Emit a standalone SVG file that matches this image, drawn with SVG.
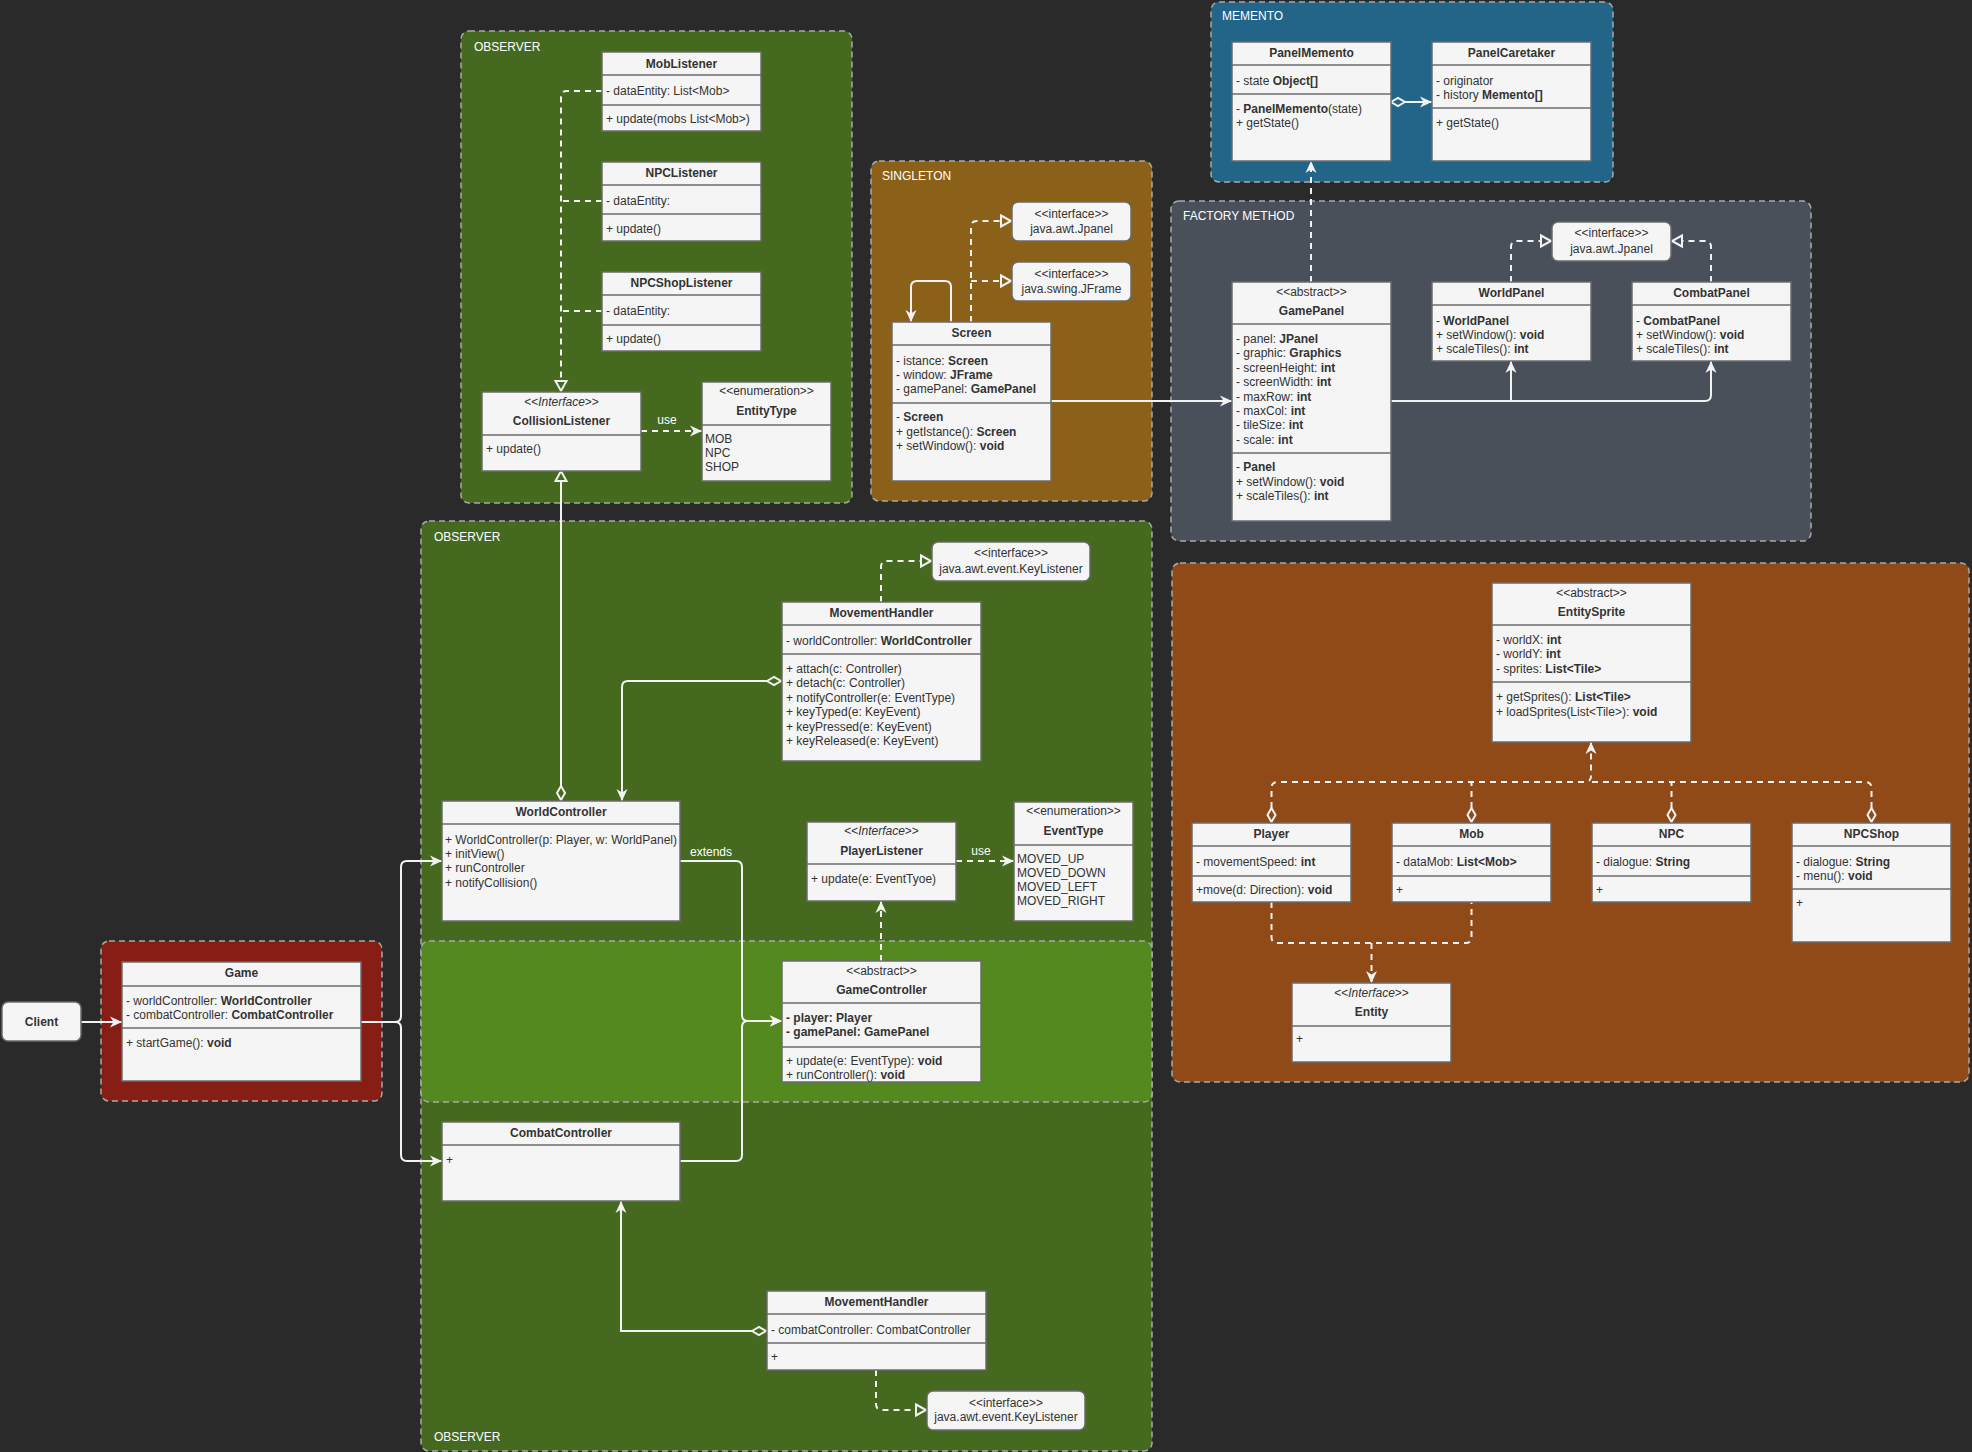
<svg xmlns="http://www.w3.org/2000/svg" width="1972" height="1452" viewBox="0 0 1972 1452">
<defs>
<style>
.grp{stroke:#a9a9a9;stroke-width:1.5;stroke-dasharray:6 4}
.box{fill:#f5f5f5;stroke:#6b6b6b;stroke-width:1.5}
.sep{stroke:#6b6b6b;stroke-width:1.5}
text{font-family:"Liberation Sans",Arial,Helvetica,sans-serif;font-size:12px;fill:#333333}
.b{font-weight:bold}
.m{text-anchor:middle}
.i{font-style:italic}
.f12{font-size:12px}
.lbl{font-size:12px;fill:#ffffff}
.ln{fill:none;stroke:#f2f2f2;stroke-width:2}
.d{stroke-dasharray:6 5}
</style>
<!-- filled notched arrow -->
<marker id="arr" markerUnits="userSpaceOnUse" markerWidth="14" markerHeight="14" refX="12" refY="6" orient="auto" overflow="visible">
<path d="M0,0.5 L12,6 L0,11.5 L3.5,6 Z" fill="#f2f2f2"/>
</marker>
<!-- hollow triangle (realization / generalization), path ends at its base -->
<marker id="tri" markerUnits="userSpaceOnUse" markerWidth="14" markerHeight="14" refX="1" refY="7" orient="auto" overflow="visible">
<path d="M1,1.5 L11,7 L1,12.5 Z" fill="none" stroke="#f2f2f2" stroke-width="2"/>
</marker>
<!-- hollow diamond (aggregation) at path start -->
<marker id="dia" markerUnits="userSpaceOnUse" markerWidth="18" markerHeight="12" refX="1" refY="6" orient="auto-start-reverse" overflow="visible">
<path d="M1,6 L8,2 L15,6 L8,10 Z" fill="none" stroke="#f2f2f2" stroke-width="2"/>
</marker>
</defs>

<rect x="0" y="0" width="1972" height="1452" fill="#2a2a2a"/>

<!-- pattern groups -->
<g id="groups">
<rect x="461" y="31" width="391" height="472" rx="8" fill="#45691f" class="grp"/>
<text x="474" y="51" class="lbl">OBSERVER</text>
<rect x="871" y="161" width="281" height="340" rx="8" fill="#8b6119" class="grp"/>
<text x="882" y="180" class="lbl">SINGLETON</text>
<rect x="1211" y="2" width="402" height="180" rx="8" fill="#226589" class="grp"/>
<text x="1222" y="20" class="lbl">MEMENTO</text>
<rect x="1171" y="201" width="640" height="340" rx="8" fill="#4a505a" class="grp"/>
<text x="1183" y="220" class="lbl">FACTORY METHOD</text>
<rect x="1172" y="563" width="797" height="519" rx="8" fill="#8f4a17" class="grp"/>
<rect x="421" y="521" width="731" height="930" rx="8" fill="#45691f" class="grp"/>
<text x="434" y="541" class="lbl">OBSERVER</text>
<text x="434" y="1441" class="lbl">OBSERVER</text>
<rect x="421" y="941" width="731" height="161" rx="8" fill="#53891e" class="grp"/>
<rect x="101" y="941" width="281" height="160" rx="8" fill="#861e16" class="grp"/>
</g>

<!-- connectors -->
<g id="connectors">
<!-- listeners realize CollisionListener -->
<path class="ln d" d="M602,91 H567 Q561,91 561,97 V381" marker-end="url(#tri)"/>
<path class="ln d" d="M602,201 H561"/>
<path class="ln d" d="M602,311 H561"/>
<path class="ln d" d="M641,431 H702" marker-end="url(#arr)"/>
<text x="667" y="424" class="lbl m">use</text>
<path class="ln" d="M561,786 V481" marker-start="url(#dia)" marker-end="url(#tri)"/>
<!-- singleton -->
<path class="ln" d="M951,322 V287 Q951,281 945,281 H917 Q911,281 911,287 V322" marker-end="url(#arr)"/>
<path class="ln d" d="M971,322 V227 Q971,221 977,221 H1001" marker-end="url(#tri)"/>
<path class="ln d" d="M971,281 H1001" marker-end="url(#tri)"/>
<path class="ln" d="M1051,401 H1232" marker-end="url(#arr)"/>
<!-- memento -->
<path class="ln" d="M1405,102 H1432" marker-start="url(#dia)" marker-end="url(#arr)"/>
<path class="ln d" d="M1311,282 V161" marker-end="url(#arr)"/>
<!-- factory -->
<path class="ln" d="M1391,401 H1705 Q1711,401 1711,395 V361" marker-end="url(#arr)"/>
<path class="ln" d="M1511,401 V361" marker-end="url(#arr)"/>
<path class="ln d" d="M1511,282 V247 Q1511,241 1517,241 H1541" marker-end="url(#tri)"/>
<path class="ln d" d="M1711,282 V247 Q1711,241 1705,241 H1682" marker-end="url(#tri)"/>
<!-- entities -->
<path class="ln d" d="M1271.5,808 V788 Q1271.5,782 1277.5,782 H1585 Q1591,782 1591,776 V742" marker-start="url(#dia)" marker-end="url(#arr)"/>
<path class="ln d" d="M1471.5,808 V782" marker-start="url(#dia)"/>
<path class="ln d" d="M1671.5,808 V782" marker-start="url(#dia)"/>
<path class="ln d" d="M1871.5,808 V788 Q1871.5,782 1865.5,782 H1591" marker-start="url(#dia)"/>
<path class="ln d" d="M1271.5,902 V937 Q1271.5,943 1277.5,943 H1465.5 Q1471.5,943 1471.5,937 V902"/>
<path class="ln d" d="M1371.5,943 V983" marker-end="url(#arr)"/>
<!-- world side -->
<path class="ln d" d="M881,602 V567 Q881,561 887,561 H921" marker-end="url(#tri)"/>
<path class="ln" d="M767,681 H628 Q622,681 622,687 V801" marker-start="url(#dia)" marker-end="url(#arr)"/>
<path class="ln" d="M680,861 H736 Q742,861 742,867 V1015 Q742,1021 748,1021 H782" marker-end="url(#arr)"/>
<text x="711" y="856" class="lbl m">extends</text>
<path class="ln" d="M680,1161 H736 Q742,1161 742,1155 V1027 Q742,1021 748,1021 H782" marker-end="url(#arr)"/>
<path class="ln d" d="M956,861 H1014" marker-end="url(#arr)"/>
<text x="981" y="855" class="lbl m">use</text>
<path class="ln d" d="M881,961 V901" marker-end="url(#arr)"/>
<!-- combat side -->
<path class="ln" d="M752,1331 H621 V1201" marker-start="url(#dia)" marker-end="url(#arr)"/>
<path class="ln d" d="M876,1370 V1404 Q876,1410 882,1410 H916" marker-end="url(#tri)"/>
<!-- entry -->
<path class="ln" d="M81,1022 H122" marker-end="url(#arr)"/>
<path class="ln" d="M361,1022 H395 Q401,1022 401,1016 V867 Q401,861 407,861 H442" marker-end="url(#arr)"/>
<path class="ln" d="M361,1022 H395 Q401,1022 401,1028 V1155 Q401,1161 407,1161 H442" marker-end="url(#arr)"/>
</g>

<!-- OBSERVER (collision) -->
<g id="MobListener">
<rect x="602" y="52" width="159" height="79" class="box"/>
<line x1="602" y1="75" x2="761" y2="75" class="sep"/><line x1="602" y1="105" x2="761" y2="105" class="sep"/>
<text x="681.5" y="68" class="m b">MobListener</text>
<text x="606" y="95">- dataEntity: List&lt;Mob&gt;</text>
<text x="606" y="123">+ update(mobs List&lt;Mob&gt;)</text>
</g>
<g id="NPCListener">
<rect x="602" y="162" width="159" height="79" class="box"/>
<line x1="602" y1="185" x2="761" y2="185" class="sep"/><line x1="602" y1="214" x2="761" y2="214" class="sep"/>
<text x="681.5" y="177" class="m b">NPCListener</text>
<text x="606" y="205">- dataEntity:</text>
<text x="606" y="233">+ update()</text>
</g>
<g id="NPCShopListener">
<rect x="602" y="272" width="159" height="79" class="box"/>
<line x1="602" y1="295" x2="761" y2="295" class="sep"/><line x1="602" y1="325" x2="761" y2="325" class="sep"/>
<text x="681.5" y="287" class="m b">NPCShopListener</text>
<text x="606" y="315">- dataEntity:</text>
<text x="606" y="343">+ update()</text>
</g>
<g id="CollisionListener">
<rect x="482" y="392" width="159" height="79" class="box"/>
<line x1="482" y1="435" x2="641" y2="435" class="sep"/>
<text x="561.5" y="406" class="m">&lt;&lt;<tspan class="i">Interface</tspan>&gt;&gt;</text>
<text x="561.5" y="425" class="m b">CollisionListener</text>
<text x="486" y="453">+ update()</text>
</g>
<g id="EntityType">
<rect x="702" y="382" width="129" height="99" class="box"/>
<line x1="702" y1="425" x2="831" y2="425" class="sep"/>
<text x="766.5" y="395" class="m">&lt;&lt;enumeration&gt;&gt;</text>
<text x="766.5" y="415" class="m b">EntityType</text>
<text x="705" y="443">MOB</text>
<text x="705" y="457">NPC</text>
<text x="705" y="471">SHOP</text>
</g>

<!-- SINGLETON -->
<g id="JPanelA">
<rect x="1012" y="202" width="119" height="39" rx="6" class="box"/>
<text x="1071.5" y="218" class="m">&lt;&lt;interface&gt;&gt;</text>
<text x="1071.5" y="233" class="m">java.awt.Jpanel</text>
</g>
<g id="JFrame">
<rect x="1012" y="262" width="119" height="39" rx="6" class="box"/>
<text x="1071.5" y="278" class="m">&lt;&lt;interface&gt;&gt;</text>
<text x="1071.5" y="293" class="m">java.swing.JFrame</text>
</g>
<g id="Screen">
<rect x="892" y="322" width="159" height="159" class="box"/>
<line x1="892" y1="345" x2="1051" y2="345" class="sep"/><line x1="892" y1="403" x2="1051" y2="403" class="sep"/>
<text x="971.5" y="337" class="m b">Screen</text>
<text x="896" y="365">- istance: <tspan class="b">Screen</tspan></text>
<text x="896" y="379">- window: <tspan class="b">JFrame</tspan></text>
<text x="896" y="393">- gamePanel: <tspan class="b">GamePanel</tspan></text>
<text x="896" y="421">- <tspan class="b">Screen</tspan></text>
<text x="896" y="436">+ getIstance(): <tspan class="b">Screen</tspan></text>
<text x="896" y="450">+ setWindow(): <tspan class="b">void</tspan></text>
</g>

<!-- MEMENTO -->
<g id="PanelMemento">
<rect x="1232" y="42" width="159" height="119" class="box"/>
<line x1="1232" y1="65" x2="1391" y2="65" class="sep"/><line x1="1232" y1="94" x2="1391" y2="94" class="sep"/>
<text x="1311.5" y="57" class="m b">PanelMemento</text>
<text x="1236" y="85">- state <tspan class="b">Object[]</tspan></text>
<text x="1236" y="113">- <tspan class="b">PanelMemento</tspan>(state)</text>
<text x="1236" y="127">+ getState()</text>
</g>
<g id="PanelCaretaker">
<rect x="1432" y="42" width="159" height="119" class="box"/>
<line x1="1432" y1="65" x2="1591" y2="65" class="sep"/><line x1="1432" y1="108" x2="1591" y2="108" class="sep"/>
<text x="1511.5" y="57" class="m b">PanelCaretaker</text>
<text x="1436" y="85">- originator</text>
<text x="1436" y="99">- history <tspan class="b">Memento[]</tspan></text>
<text x="1436" y="127">+ getState()</text>
</g>

<!-- FACTORY METHOD -->
<g id="GamePanel">
<rect x="1232" y="282" width="159" height="239" class="box"/>
<line x1="1232" y1="324" x2="1391" y2="324" class="sep"/><line x1="1232" y1="453" x2="1391" y2="453" class="sep"/>
<text x="1311.5" y="296" class="m">&lt;&lt;abstract&gt;&gt;</text>
<text x="1311.5" y="315" class="m b">GamePanel</text>
<text x="1236" y="343">- panel: <tspan class="b">JPanel</tspan></text>
<text x="1236" y="357">- graphic: <tspan class="b">Graphics</tspan></text>
<text x="1236" y="372">- screenHeight: <tspan class="b">int</tspan></text>
<text x="1236" y="386">- screenWidth: <tspan class="b">int</tspan></text>
<text x="1236" y="401">- maxRow: <tspan class="b">int</tspan></text>
<text x="1236" y="415">- maxCol: <tspan class="b">int</tspan></text>
<text x="1236" y="429">- tileSize: <tspan class="b">int</tspan></text>
<text x="1236" y="444">- scale: <tspan class="b">int</tspan></text>
<text x="1236" y="471">- <tspan class="b">Panel</tspan></text>
<text x="1236" y="486">+ setWindow(): <tspan class="b">void</tspan></text>
<text x="1236" y="500">+ scaleTiles(): <tspan class="b">int</tspan></text>
</g>
<g id="WorldPanel">
<rect x="1432" y="282" width="159" height="79" class="box"/>
<line x1="1432" y1="305" x2="1591" y2="305" class="sep"/>
<text x="1511.5" y="297" class="m b">WorldPanel</text>
<text x="1436" y="325">- <tspan class="b">WorldPanel</tspan></text>
<text x="1436" y="339">+ setWindow(): <tspan class="b">void</tspan></text>
<text x="1436" y="353">+ scaleTiles(): <tspan class="b">int</tspan></text>
</g>
<g id="CombatPanel">
<rect x="1632" y="282" width="159" height="79" class="box"/>
<line x1="1632" y1="305" x2="1791" y2="305" class="sep"/>
<text x="1711.5" y="297" class="m b">CombatPanel</text>
<text x="1636" y="325">- <tspan class="b">CombatPanel</tspan></text>
<text x="1636" y="339">+ setWindow(): <tspan class="b">void</tspan></text>
<text x="1636" y="353">+ scaleTiles(): <tspan class="b">int</tspan></text>
</g>
<g id="JPanelB">
<rect x="1552" y="222" width="119" height="39" rx="6" class="box"/>
<text x="1611.5" y="237" class="m">&lt;&lt;interface&gt;&gt;</text>
<text x="1611.5" y="253" class="m">java.awt.Jpanel</text>
</g>

<!-- ENTITIES -->
<g id="EntitySprite">
<rect x="1492" y="583" width="199" height="159" class="box"/>
<line x1="1492" y1="625" x2="1691" y2="625" class="sep"/><line x1="1492" y1="682" x2="1691" y2="682" class="sep"/>
<text x="1591.5" y="597" class="m">&lt;&lt;abstract&gt;&gt;</text>
<text x="1591.5" y="616" class="m b">EntitySprite</text>
<text x="1496" y="644">- worldX: <tspan class="b">int</tspan></text>
<text x="1496" y="658">- worldY: <tspan class="b">int</tspan></text>
<text x="1496" y="673">- sprites: <tspan class="b">List&lt;Tile&gt;</tspan></text>
<text x="1496" y="701">+ getSprites(): <tspan class="b">List&lt;Tile&gt;</tspan></text>
<text x="1496" y="716">+ loadSprites(List&lt;Tile&gt;): <tspan class="b">void</tspan></text>
</g>
<g id="Player">
<rect x="1192" y="823" width="159" height="79" class="box"/>
<line x1="1192" y1="846" x2="1351" y2="846" class="sep"/><line x1="1192" y1="876" x2="1351" y2="876" class="sep"/>
<text x="1271.5" y="838" class="m b">Player</text>
<text x="1196" y="866">- movementSpeed: <tspan class="b">int</tspan></text>
<text x="1196" y="894">+move(d: Direction): <tspan class="b">void</tspan></text>
</g>
<g id="Mob">
<rect x="1392" y="823" width="159" height="79" class="box"/>
<line x1="1392" y1="846" x2="1551" y2="846" class="sep"/><line x1="1392" y1="876" x2="1551" y2="876" class="sep"/>
<text x="1471.5" y="838" class="m b">Mob</text>
<text x="1396" y="866">- dataMob: <tspan class="b">List&lt;Mob&gt;</tspan></text>
<text x="1396" y="894">+</text>
</g>
<g id="NPC">
<rect x="1592" y="823" width="159" height="79" class="box"/>
<line x1="1592" y1="846" x2="1751" y2="846" class="sep"/><line x1="1592" y1="876" x2="1751" y2="876" class="sep"/>
<text x="1671.5" y="838" class="m b">NPC</text>
<text x="1596" y="866">- dialogue: <tspan class="b">String</tspan></text>
<text x="1596" y="894">+</text>
</g>
<g id="NPCShop">
<rect x="1792" y="823" width="159" height="119" class="box"/>
<line x1="1792" y1="846" x2="1951" y2="846" class="sep"/><line x1="1792" y1="889" x2="1951" y2="889" class="sep"/>
<text x="1871.5" y="838" class="m b">NPCShop</text>
<text x="1796" y="866">- dialogue: <tspan class="b">String</tspan></text>
<text x="1796" y="880">- menu(): <tspan class="b">void</tspan></text>
<text x="1796" y="907">+</text>
</g>
<g id="Entity">
<rect x="1292" y="983" width="159" height="79" class="box"/>
<line x1="1292" y1="1026" x2="1451" y2="1026" class="sep"/>
<text x="1371.5" y="997" class="m">&lt;&lt;<tspan class="i">Interface</tspan>&gt;&gt;</text>
<text x="1371.5" y="1016" class="m b">Entity</text>
<text x="1296" y="1043">+</text>
</g>

<!-- OBSERVER (input) -->
<g id="KeyListenerA">
<rect x="932" y="542" width="158" height="39" rx="6" class="box"/>
<text x="1011" y="557" class="m">&lt;&lt;interface&gt;&gt;</text>
<text x="1011" y="573" class="m">java.awt.event.KeyListener</text>
</g>
<g id="MovementHandlerWorld">
<rect x="782" y="602" width="199" height="159" class="box"/>
<line x1="782" y1="625" x2="981" y2="625" class="sep"/><line x1="782" y1="654" x2="981" y2="654" class="sep"/>
<text x="881.5" y="617" class="m b">MovementHandler</text>
<text x="786" y="645">- worldController: <tspan class="b">WorldController</tspan></text>
<text x="786" y="673">+ attach(c: Controller)</text>
<text x="786" y="687">+ detach(c: Controller)</text>
<text x="786" y="702">+ notifyController(e: EventType)</text>
<text x="786" y="716">+ keyTyped(e: KeyEvent)</text>
<text x="786" y="731">+ keyPressed(e: KeyEvent)</text>
<text x="786" y="745">+ keyReleased(e: KeyEvent)</text>
</g>
<g id="WorldController">
<rect x="442" y="801" width="238" height="120" class="box"/>
<line x1="442" y1="824" x2="680" y2="824" class="sep"/>
<text x="561" y="816" class="m b">WorldController</text>
<text x="445" y="844">+ WorldController(p: Player, w: WorldPanel)</text>
<text x="445" y="858">+ initView()</text>
<text x="445" y="872">+ runController</text>
<text x="445" y="887">+ notifyCollision()</text>
</g>
<g id="PlayerListener">
<rect x="807" y="822" width="149" height="79" class="box"/>
<line x1="807" y1="864" x2="956" y2="864" class="sep"/>
<text x="881.5" y="835" class="m">&lt;&lt;<tspan class="i">Interface</tspan>&gt;&gt;</text>
<text x="881.5" y="855" class="m b">PlayerListener</text>
<text x="811" y="883">+ update(e: EventTyoe)</text>
</g>
<g id="EventType">
<rect x="1014" y="802" width="119" height="119" class="box"/>
<line x1="1014" y1="845" x2="1133" y2="845" class="sep"/>
<text x="1073.5" y="815" class="m">&lt;&lt;enumeration&gt;&gt;</text>
<text x="1073.5" y="835" class="m b">EventType</text>
<text x="1017" y="863">MOVED_UP</text>
<text x="1017" y="877">MOVED_DOWN</text>
<text x="1017" y="891">MOVED_LEFT</text>
<text x="1017" y="905">MOVED_RIGHT</text>
</g>
<g id="GameController">
<rect x="782" y="961" width="199" height="121" class="box"/>
<line x1="782" y1="1003" x2="981" y2="1003" class="sep"/><line x1="782" y1="1047" x2="981" y2="1047" class="sep"/>
<text x="881.5" y="975" class="m">&lt;&lt;abstract&gt;&gt;</text>
<text x="881.5" y="994" class="m b">GameController</text>
<text x="786" y="1022" class="b">- player: Player</text>
<text x="786" y="1036" class="b">- gamePanel: GamePanel</text>
<text x="786" y="1065">+ update(e: EventType): <tspan class="b">void</tspan></text>
<text x="786" y="1079">+ runController(): <tspan class="b">void</tspan></text>
</g>
<g id="CombatController">
<rect x="442" y="1122" width="238" height="79" class="box"/>
<line x1="442" y1="1145" x2="680" y2="1145" class="sep"/>
<text x="561" y="1137" class="m b">CombatController</text>
<text x="446" y="1164">+</text>
</g>
<g id="MovementHandlerCombat">
<rect x="767" y="1291" width="219" height="79" class="box"/>
<line x1="767" y1="1314" x2="986" y2="1314" class="sep"/><line x1="767" y1="1343" x2="986" y2="1343" class="sep"/>
<text x="876.5" y="1306" class="m b">MovementHandler</text>
<text x="771" y="1334">- combatController: CombatController</text>
<text x="771" y="1361">+</text>
</g>
<g id="KeyListenerB">
<rect x="927" y="1391" width="158" height="39" rx="6" class="box"/>
<text x="1006" y="1407" class="m">&lt;&lt;interface&gt;&gt;</text>
<text x="1006" y="1421" class="m">java.awt.event.KeyListener</text>
</g>

<!-- entry point -->
<g id="Client">
<rect x="2" y="1002" width="79" height="39" rx="6" class="box"/>
<text x="41.5" y="1026" class="m b">Client</text>
</g>
<g id="Game">
<rect x="122" y="962" width="239" height="119" class="box"/>
<line x1="122" y1="986" x2="361" y2="986" class="sep"/><line x1="122" y1="1028" x2="361" y2="1028" class="sep"/>
<text x="241.5" y="977" class="m b">Game</text>
<text x="126" y="1005">- worldController: <tspan class="b">WorldController</tspan></text>
<text x="126" y="1019">- combatController: <tspan class="b">CombatController</tspan></text>
<text x="126" y="1047">+ startGame(): <tspan class="b">void</tspan></text>
</g>
</svg>
